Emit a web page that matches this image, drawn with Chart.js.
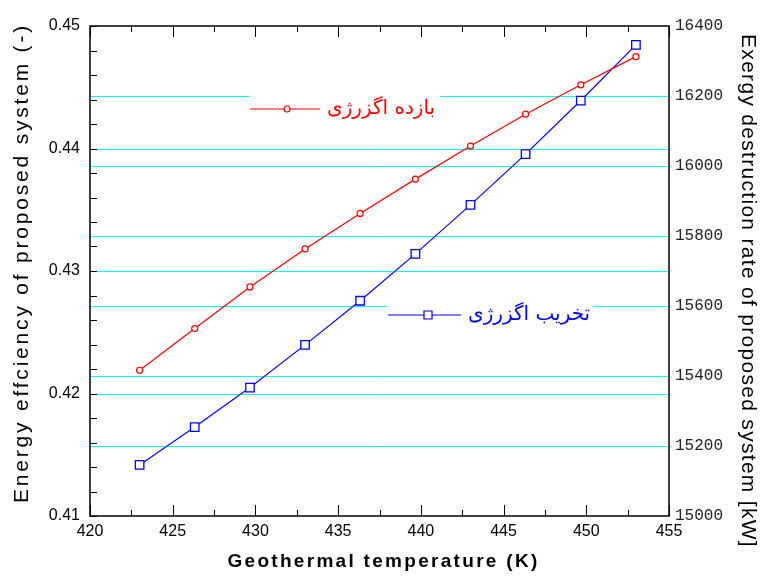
<!DOCTYPE html>
<html>
<head>
<meta charset="utf-8">
<script src="https://cdn.jsdelivr.net/npm/chart.js@4.4.1/dist/chart.umd.min.js"></script>
<style>
  html, body { margin: 0; padding: 0; background: #fff; }
  #wrap { width: 763px; height: 576px; }
</style>
</head>
<body>
<div id="wrap"><canvas id="exergyChart" width="763" height="576"></canvas></div>
<script>
// --- 1. Data ---
const temps = [423, 426.33, 429.67, 433, 436.33, 439.67, 443, 446.33, 449.67, 453];
const efficiency = [0.4219, 0.4253, 0.4287, 0.4318, 0.4347, 0.4375, 0.4402, 0.4428, 0.4452, 0.4475];
const destruction = [15146, 15254, 15367, 15489, 15615, 15749, 15889, 16034, 16187, 16346];
const effLabel = 'بازده اگزرژی';
const destLabel = 'تخریب اگزرژی';
const xTitle = 'Geothermal temperature (K)';
const yTitle = 'Energy effciency of proposed system (-)';
const y2Title = 'Exergy destruction rate of proposed system [kW]';

const toPoints = (xs, ys) => xs.map((x, i) => ({ x: x, y: ys[i] }));

// --- 2. Grid, frame, inner ticks, titles and in-plot legends ---
const framePlugin = {
    id: 'frame',
    beforeDatasetsDraw(chart) {
        // cyan grid at the inner major ticks of both value axes
        const { ctx, chartArea: a, scales } = chart;
        ctx.save();
        ctx.strokeStyle = '#00ffff';
        ctx.lineWidth = 1;
        ctx.beginPath();
        ['y', 'y2'].forEach((id) => {
            const s = scales[id];
            s.ticks.forEach((t) => {
                if (t.value <= s.min + 1e-9 || t.value >= s.max - 1e-9) return;
                const py = Math.round(s.getPixelForValue(t.value)) + 0.5;
                ctx.moveTo(a.left, py); ctx.lineTo(a.right, py);
            });
        });
        ctx.stroke();
        ctx.restore();
    },
    afterDatasetsDraw(chart) {
        const { ctx, chartArea: a, scales } = chart;
        const x = scales.x, y = scales.y;
        ctx.save();
        ctx.strokeStyle = '#000';
        ctx.lineWidth = 1;
        ctx.beginPath();
        // left axis ticks every 0.002
        for (let i = 0; i <= 20; i++) {
            const py = Math.round(y.getPixelForValue(0.41 + i * 0.002)) + 0.5;
            ctx.moveTo(a.left, py); ctx.lineTo(a.left + 7, py);
        }
        // top / bottom ticks every 2.5
        for (let i = 0; i <= 14; i++) {
            const px = Math.round(x.getPixelForValue(420 + i * 2.5)) + 0.5;
            const len = (i % 2 === 0) ? 11 : 6;
            ctx.moveTo(px, a.bottom); ctx.lineTo(px, a.bottom - len);
            ctx.moveTo(px, a.top); ctx.lineTo(px, a.top + len);
        }
        ctx.stroke();
        ctx.lineWidth = 1.5;
        ctx.strokeRect(a.left, a.top, a.right - a.left, a.bottom - a.top);

        // legends inside the plot, white box breaks the grid lines
        const drawLegend = (ds, bx, by, bw, lineLen, markerAt) => {
            ctx.fillStyle = '#fff';
            ctx.fillRect(bx, by - 16, bw, 32);
            ctx.strokeStyle = ds.borderColor;
            ctx.lineWidth = 1.2;
            ctx.beginPath();
            ctx.moveTo(bx + 1, by); ctx.lineTo(bx + 1 + lineLen, by);
            ctx.stroke();
            ctx.fillStyle = '#fff';
            ctx.beginPath();
            if (ds.pointStyle === 'rect') {
                ctx.rect(bx + markerAt - 4, by - 4, 8, 8);
            } else {
                ctx.arc(bx + markerAt, by, 3, 0, Math.PI * 2);
            }
            ctx.fill(); ctx.stroke();
            ctx.fillStyle = ds.borderColor;
            ctx.font = '20px "DejaVu Sans"';
            ctx.textBaseline = 'middle';
            ctx.textAlign = 'left';
            ctx.fillText(ds.label, bx + lineLen + 8, by);
        };
        const dsets = chart.data.datasets;
        drawLegend(dsets[0], 249, 109, 191, 70, 38);
        drawLegend(dsets[1], 387, 315, 206, 73, 41);
        ctx.restore();
    },
    afterDraw(chart) {
        // axis titles (the original has wide letter spacing)
        const ctx = chart.ctx;
        const a = chart.chartArea;
        const put = (text, cx, cy, rot, font, spacing) => {
            ctx.save();
            ctx.translate(cx, cy);
            ctx.rotate(rot);
            ctx.font = font;
            ctx.letterSpacing = spacing + 'px';
            ctx.fillStyle = '#000';
            ctx.textAlign = 'center';
            ctx.textBaseline = 'middle';
            ctx.fillText(text, 0, 0);
            ctx.restore();
        };
        put(yTitle, 22, 263, -Math.PI / 2, '21px "Liberation Sans"', 2.8);
        put(y2Title, 748, 291, Math.PI / 2, '21px "Liberation Sans"', 1.3);
        put(xTitle, (a.left + a.right) / 2 + 4, 562, 0, 'bold 19px "Liberation Sans"', 2.3);
    }
};

// --- 3. Chart ---
const ctx = document.getElementById('exergyChart').getContext('2d');
const exergyChart = new Chart(ctx, {
    type: 'line',
    data: {
        datasets: [{
            label: effLabel,
            data: toPoints(temps, efficiency),
            yAxisID: 'y',
            borderColor: '#ff0000',
            backgroundColor: '#ffffff',
            borderWidth: 1.2,
            pointStyle: 'circle',
            pointRadius: 3,
            pointBorderWidth: 1.2,
            pointBackgroundColor: '#ffffff',
            tension: 0
        }, {
            label: destLabel,
            data: toPoints(temps, destruction),
            yAxisID: 'y2',
            borderColor: '#0000ff',
            backgroundColor: '#ffffff',
            borderWidth: 1.2,
            pointStyle: 'rect',
            pointRadius: 6,
            pointBorderWidth: 1.3,
            pointBackgroundColor: '#ffffff',
            tension: 0
        }]
    },
    options: {
        responsive: false,
        animation: false,
        layout: { padding: { top: 26, left: 0, right: 0, bottom: 0 } },
        plugins: { legend: { display: false }, tooltip: { enabled: false } },
        scales: {
            x: {
                type: 'linear',
                min: 420, max: 455,
                afterFit: (s) => { s.height = 60; },
                ticks: { stepSize: 5, padding: 6, color: '#000', font: { family: 'Liberation Sans', size: 16 } },
                grid: { display: false, drawTicks: false },
                border: { display: false }
            },
            y: {
                position: 'left',
                min: 0.41, max: 0.45,
                afterFit: (s) => { s.width = 90; },
                ticks: {
                    stepSize: 0.01, padding: 10, color: '#000',
                    font: { family: 'Liberation Sans', size: 16 },
                    callback: (v) => v.toFixed(2)
                },
                grid: { display: false, drawTicks: false },
                border: { display: false }
            },
            y2: {
                position: 'right',
                min: 15000, max: 16400,
                afterFit: (s) => { s.width = 94; },
                ticks: {
                    stepSize: 200, padding: 6, color: '#222',
                    font: { family: 'Liberation Mono', size: 16 },
                    callback: (v) => String(v)
                },
                grid: { display: false, drawTicks: false },
                border: { display: false }
            }
        }
    },
    plugins: [framePlugin]
});
</script>
</body>
</html>
